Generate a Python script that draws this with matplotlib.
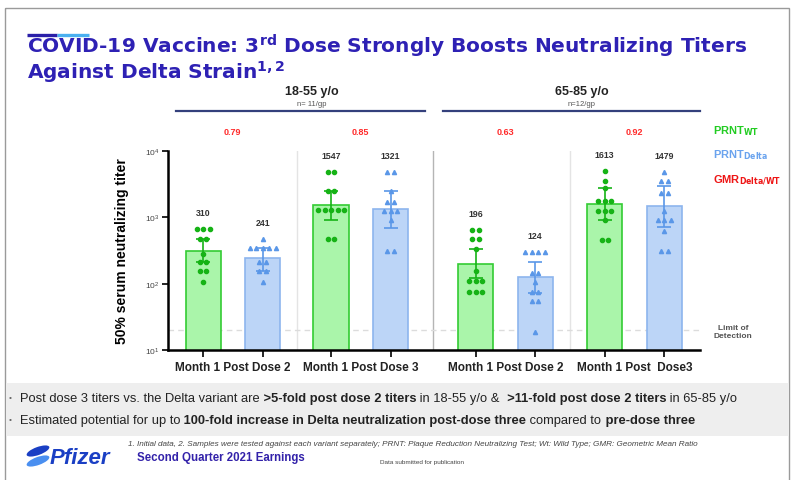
import numpy as np
import matplotlib
matplotlib.use('Agg')
import matplotlib.pyplot as plt
from matplotlib.patches import Rectangle, Ellipse

# Data
labels = ['Month 1 Post Dose 2', 'Month 1 Post Dose 3', 'Month 1 Post Dose 2', 'Month 1 Post  Dose3']
gmt = [310, 241, 1547, 1321, 196, 124, 1613, 1479]
gmr = [0.79, 0.85, 0.63, 0.92]
ci_lo = [213, 155, 900, 700, 120, 73, 900, 720]
ci_hi = [465, 348, 2500, 2500, 330, 210, 2790, 2950]
d1 = [660, 660, 660, 465, 465, 280, 213, 213, 155, 155, 106]
d2 = [465, 348, 348, 348, 348, 348, 213, 213, 155, 155, 106]
d3 = [4860, 4860, 2500, 2500, 1275, 1275, 1275, 1275, 1275, 465, 465]
d4 = [4860, 4860, 2500, 1720, 1720, 1245, 1245, 1245, 900, 310, 310]
d5 = [645, 645, 465, 465, 330, 155, 110, 110, 110, 75, 75, 75]
d6 = [300, 300, 300, 300, 147, 147, 107, 74, 74, 54, 54, 19]
d7 = [4960, 3510, 2790, 1760, 1760, 1760, 1245, 1245, 1245, 900, 457, 457]
d8 = [4860, 3510, 3510, 2350, 2350, 1245, 900, 900, 900, 624, 310, 310]
dots = [d1, d2, d3, d4, d5, d6, d7, d8]
lod = 20

plt.rcParams['font.family'] = ['Liberation Sans', 'DejaVu Sans']
plt.rcParams['mathtext.fontset'] = 'custom'
plt.rcParams['mathtext.rm'] = 'Liberation Sans'
plt.rcParams['mathtext.bf'] = 'Liberation Sans:bold'
plt.rcParams['mathtext.it'] = 'Liberation Sans:italic'

GREEN_F, GREEN_E, GREEN_D = '#aaf5aa', '#33cc33', '#16b316'
BLUE_F, BLUE_E, BLUE_D = '#bcd5f7', '#8db5ee', '#5a97e8'
RED = '#ff2a2a'
TITLE = '#2e21b4'
WIDE = ['DejaVu Sans']

fig = plt.figure(figsize=(7.95, 4.81), dpi=100)

# overlay in pixel coords for slide decorations
ov = fig.add_axes([0, 0, 1, 1], zorder=0)
ov.set_xlim(0, 795)
ov.set_ylim(481, 0)
ov.axis('off')

ax = fig.add_axes([168 / 795, 1 - 351 / 481, 532 / 795, 199 / 481], zorder=2)
ax.patch.set_alpha(0)

starts = [0, 2.15, 4.58, 6.75]
xs = np.ravel([[s, s + 1] for s in starts])
mids = [s + 0.5 for s in starts]
faces = [GREEN_F, BLUE_F] * 4
edges = [GREEN_E, BLUE_E] * 4
dcol = [GREEN_D, BLUE_D] * 4
marks = ['o', '^'] * 4

ax.set_yscale('log')
ax.set_ylim(10, 1e4)
ax.set_xlim(-0.59, 8.35)

# separators and limit of detection
for i in range(3):
    m = (xs[2 * i + 1] + xs[2 * i + 2]) / 2
    ax.axvline(m, color='#b5b5b5' if i == 1 else '#e4e4e4', lw=1, zorder=0)
ax.axhline(lod, color='#dcdcdc', ls=(0, (4, 3)), lw=1, zorder=1)

ax.bar(xs, gmt, width=0.59, color=faces, edgecolor=edges, linewidth=1.2, zorder=2)

for i, vals in enumerate(dots):
    px, py = [], []
    for u in sorted(set(vals), reverse=True):
        k = vals.count(u)
        for j in range(k):
            px.append(xs[i] + (j - (k - 1) / 2) * 0.11)
            py.append(u)
    ax.plot(px, py, ls='none', marker=marks[i], ms=3.0, color=dcol[i], zorder=4)
    ax.errorbar(xs[i], gmt[i], yerr=[[gmt[i] - ci_lo[i]], [ci_hi[i] - gmt[i]]],
                fmt='none', ecolor=dcol[i], elinewidth=1.2, capsize=5, capthick=1.2, zorder=5)
    ax.annotate(str(gmt[i]), xy=(xs[i], max(vals)), xytext=(0, 12), textcoords='offset points',
                ha='center', va='center', fontsize=6.3, fontweight='bold', color='#333333')

for m, g in zip(mids, gmr):
    ax.annotate('%.2f' % g, xy=(m, 1), xycoords=('data', 'axes fraction'), xytext=(0, 14),
                textcoords='offset points', ha='center', va='center', fontsize=6.5,
                fontweight='bold', color=RED, annotation_clip=False)

for s in ['top', 'right']:
    ax.spines[s].set_visible(False)
for s in ['left', 'bottom']:
    ax.spines[s].set_linewidth(1.8)
ax.set_yticks([10, 100, 1000, 10000])
ax.set_yticklabels([r'$10^1$', r'$10^2$', r'$10^3$', r'$10^4$'])
ax.yaxis.set_minor_locator(matplotlib.ticker.NullLocator())
ax.tick_params(axis='y', length=4, width=1.2, labelsize=6, labelcolor='#444444', pad=2)
ax.set_xticks(mids)
ax.set_xticklabels(labels, fontsize=8.5, fontweight='bold', color='#222222')
ax.set_xticks(xs, minor=True)
ax.tick_params(axis='x', which='major', length=0, pad=8)
ax.tick_params(axis='x', which='minor', length=5, width=1.2)
ax.set_ylabel('50% serum neutralizing titer', fontsize=10, fontweight='bold', labelpad=12)

ov.text(733, 333, 'Limit of\nDetection', ha='center', va='center', fontsize=6,
        fontweight='bold', color='#555555', linespacing=1.2)

# group headers
for x0, x1, xc, t1, t2 in [(176, 425, 312, '18-55 y/o', 'n= 11/gp'), (443, 700, 582, '65-85 y/o', 'n=12/gp')]:
    ov.plot([x0, x1], [112, 112], color='#34407c', lw=1.6)
    ov.text(xc, 92, t1, ha='center', va='center', fontsize=9, fontweight='bold', color='#222222')
    ov.text(xc, 104, t2, ha='center', va='center', fontsize=5.5, color='#555555')

# legend text
ov.text(713, 131, r'PRNT$_{\mathbf{WT}}$', fontsize=8, fontweight='bold', color='#22cc22', va='center')
ov.text(713, 155, r'PRNT$_{\mathbf{Delta}}$', fontsize=8, fontweight='bold', color='#6aa3ee', va='center')
ov.text(713, 181, r'GMR$_{\mathbf{Delta/WT}}$', fontsize=8, fontweight='bold', color='#ee1515', va='center')

# slide frame and title
ov.add_patch(Rectangle((5, 9), 784, 480, fill=False, ec='#9a9a9a', lw=1))
ov.plot([27, 57], [36, 36], color='#2a1fa8', lw=2.4, solid_capstyle='butt')
ov.plot([57, 89], [36, 36], color='#4ab0f0', lw=2.4, solid_capstyle='butt')
plt.rcParams['mathtext.bf'] = 'DejaVu Sans:bold'
ov.text(27, 46, r'COVID-19 Vaccine: 3$^{\mathbf{rd}}$ Dose Strongly Boosts Neutralizing Titers',
        fontsize=14.5, fontweight='bold', color=TITLE, va='center', family=WIDE)
ov.text(27, 72, r'Against Delta Strain$^{\mathbf{1,2}}$', fontsize=14.5, fontweight='bold',
        color=TITLE, va='center', family=WIDE)

# bottom band with bullets
ov.add_patch(Rectangle((6, 384), 783, 53, fc='#eeeeee', ec='none'))


def chain(x, y, parts, size, color):
    t = ov.text(x, y, parts[0][0], fontsize=size, fontweight=parts[0][1], color=color,
                ha='left', va='center')
    for s, w in parts[1:]:
        t = ov.annotate(s, xy=(1, 0), xycoords=t, ha='left', va='bottom', fontsize=size,
                        fontweight=w, color=color)


b1 = [('Post dose 3 titers vs. the Delta variant are', 'normal'),
      (' >5-fold post dose 2 titers', 'bold'),
      (' in 18-55 y/o &', 'normal'),
      ('  >11-fold post dose 2 titers', 'bold'),
      (' in 65-85 y/o', 'normal')]
b2 = [('Estimated potential for up to', 'normal'),
      (' 100-fold increase in Delta neutralization post-dose three', 'bold'),
      (' compared to', 'normal'),
      (' pre-dose three', 'bold')]
for yy, parts in [(399, b1), (421, b2)]:
    ov.text(9, yy, '\u2022', fontsize=6, color='#666666', va='center')
    chain(20, yy, parts, 9.3, '#222222')

ov.text(128, 445, '1. Initial data, 2. Samples were tested against each variant separately; PRNT: '
        'Plaque Reduction Neutralizing Test; Wt: Wild Type; GMR: Geometric Mean Ratio',
        fontsize=5.9, style='italic', color='#444444', va='center')

# footer
ov.add_patch(Ellipse((38, 452), 24, 8, angle=-20, fc='#1a3fc4', ec='none'))
ov.add_patch(Ellipse((38, 462), 24, 8, angle=-20, fc='#4a8ff0', ec='none'))
ov.text(50, 459, 'Pfizer', fontsize=16, style='italic', fontweight='bold', color='#1a3fc4', va='center')
ov.text(137, 458, 'Second Quarter 2021 Earnings', fontsize=8.3, fontweight='bold', color='#3322aa', va='center')
ov.text(380, 463, 'Data submitted for publication', fontsize=4.6, color='#444444', va='center')

fig.savefig('out.png', dpi=100)
